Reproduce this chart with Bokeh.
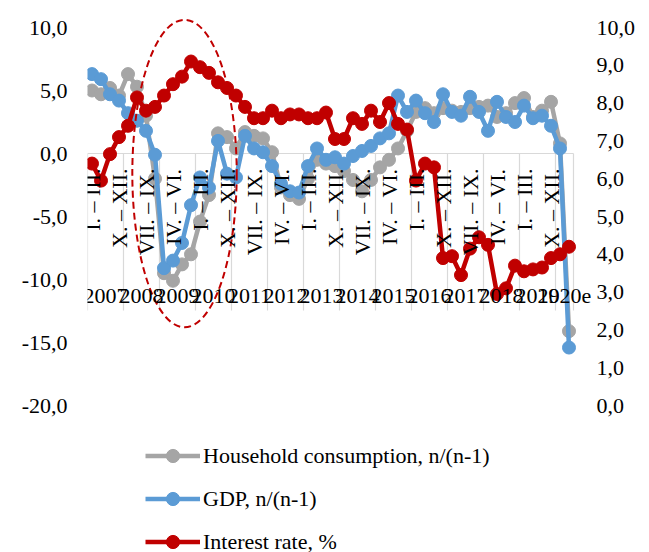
import numpy as np
from bokeh.plotting import figure
from bokeh.models import (Range1d, FixedTicker, Legend, LegendItem,
                          LabelSet, ColumnDataSource)
from bokeh.core.properties import value
from bokeh.embed import file_html
from bokeh.resources import INLINE

# ---------------- data ----------------
years = ["2007", "2008", "2009", "2010", "2011", "2012", "2013", "2014",
         "2015", "2016", "2017", "2018", "2019", "2020e"]
quarters_in_year = [4, 4, 4, 4, 4, 4, 4, 4, 4, 4, 4, 4, 4, 2]
quarter_names = ["I. – III.", "IV. – VI.", "VII. – IX.", "X. – XII."]

household = [5.0, 4.7, 5.2, 4.6, 6.3, 5.3, 3.0, -2.0,
             -9.5, -10.1, -8.8, -8.0, -5.4, -3.3, 1.6, 1.3,
             0.4, 1.7, 1.4, 1.2, 0.1, -2.7, -3.3, -3.6,
             -2.0, -0.5, -0.8, -1.0, -1.4, -2.1, -3.0, -2.1,
             -1.1, -0.5, 0.4, 1.8, 3.3, 3.6, 3.2, 3.6,
             3.4, 3.3, 3.6, 3.7, 3.8, 2.9, 3.2, 4.0,
             4.4, 2.9, 3.4, 4.1, 0.8, -14.1]
gdp = [6.3, 5.9, 4.7, 4.2, 3.2, 2.6, 1.8, -0.1,
       -9.1, -8.5, -7.1, -4.1, -1.9, -2.7, 1.0, -1.6,
       -1.9, 1.4, 0.4, 0.1, -1.0, -2.4, -3.0, -3.1,
       -1.0, 0.4, -0.5, -0.3, -0.8, -0.2, 0.2, 0.6,
       1.2, 1.6, 4.6, 3.3, 4.2, 3.2, 2.5, 4.7,
       3.3, 3.0, 4.5, 3.3, 1.8, 4.1, 2.9, 2.5,
       3.8, 2.8, 3.0, 2.2, 0.4, -15.4]
interest = [6.4, 5.95, 6.65, 7.1, 7.4, 8.15, 7.8, 7.9,
            8.2, 8.5, 8.7, 9.1, 8.95, 8.8, 8.55, 8.4,
            8.2, 7.9, 7.6, 7.6, 7.8, 7.6, 7.7, 7.7,
            7.6, 7.6, 7.75, 7.05, 7.05, 7.6, 7.45, 7.8,
            7.5, 8.0, 7.45, 7.3, 5.95, 6.4, 6.3, 3.9,
            3.95, 3.45, 4.15, 4.45, 4.25, 2.95, 3.1, 3.7,
            3.55, 3.6, 3.65, 3.9, 4.0, 4.2]

left_ticks = [-20, -15, -10, -5, 0, 5, 10]
left_tick_labels = ["-20,0", "-15,0", "-10,0", "-5,0", "0,0", "5,0", "10,0"]
right_ticks = [0, 1, 2, 3, 4, 5, 6, 7, 8, 9, 10]
right_tick_labels = ["0,0", "1,0", "2,0", "3,0", "4,0", "5,0", "6,0",
                     "7,0", "8,0", "9,0", "10,0"]

series_names = ["Household consumption, n/(n-1)", "GDP, n/(n-1)", "Interest rate, %"]
series_colors = ["#A5A5A5", "#5B9BD5", "#C00000"]

# highlighted crisis period (ellipse): centre (category units, left-axis units) and size
highlight_center = (10.78, -1.59)
highlight_size = (11.6, 24.4)

FONT = "Liberation Serif"
FSIZE = "22px"

# ---------------- derived ----------------
n = sum(quarters_in_year)
x = np.arange(n) + 0.5
period_q = []
for q_count in quarters_in_year:
    period_q += quarter_names[:q_count]

bounds = np.concatenate([[0], np.cumsum(quarters_in_year)])
year_centers = (bounds[:-1] + bounds[1:]) / 2.0

# geometry: 9 px per quarter, left 12.6 px/unit, right 37.8 px/unit;
# value 10 sits 27 px below the top, frame spans the full 552 px height
px_per_q = 9.0
x_end = n + 76 / px_per_q
left_hi = 10 + 27 / 12.6
left_lo = 10 - 525 / 12.6
right_hi = 10 + 27 / 37.8
right_lo = 10 - 525 / 37.8

p = figure(width=649, height=552, x_range=Range1d(0, x_end), y_range=Range1d(left_lo, left_hi),
           output_backend="svg", toolbar_location=None,
           min_border_left=87, min_border_right=0, min_border_top=0, min_border_bottom=0,
           x_axis_location=None, y_axis_location="left")
p.extra_y_ranges = {"right": Range1d(right_lo, right_hi)}
p.xgrid.visible = False
p.ygrid.visible = False
p.outline_line_color = None
p.background_fill_color = "white"
p.border_fill_color = "white"

la = p.yaxis[0]
la.ticker = FixedTicker(ticks=left_ticks)
la.major_label_overrides = {t: s for t, s in zip(left_ticks, left_tick_labels)}
la.axis_line_color = None
la.major_tick_line_color = None
la.minor_tick_line_color = None
la.major_tick_out = 0
la.major_tick_in = 0
la.major_label_standoff = 20
la.major_label_text_font = FONT
la.major_label_text_font_size = FSIZE
la.major_label_text_color = "black"

# right-axis tick labels (secondary scale)
rsrc = ColumnDataSource(dict(x=np.full(len(right_ticks), n + 23 / px_per_q),
                             y=right_ticks, text=right_tick_labels))
p.add_layout(LabelSet(x="x", y="y", text="text", source=rsrc, y_range_name="right",
                      text_align="left", text_baseline="middle",
                      text_font=value(FONT), text_font_size=value(FSIZE),
                      text_color="black"))

# category axis line at 0 and year dividers
p.segment(x0=[0], y0=[0], x1=[n], y1=[0], line_color="#D9D9D9", line_width=1.2)
p.segment(x0=bounds, y0=np.zeros(len(bounds)), x1=bounds,
          y1=np.full(len(bounds), -12.46), line_color="#D9D9D9", line_width=1.2)

# series
renderers = []
for vals, col, rng in [(household, series_colors[0], "default"),
                       (gdp, series_colors[1], "default"),
                       (interest, series_colors[2], "right")]:
    src = ColumnDataSource(dict(x=x, y=vals))
    ln = p.line("x", "y", source=src, line_color=col, line_width=4.5,
                line_join="round", y_range_name=rng)
    sc = p.scatter("x", "y", source=src, size=13, fill_color=col, line_color=col,
                   y_range_name=rng)
    renderers.append((ln, sc))

# highlight ellipse
p.ellipse(x=[highlight_center[0]], y=[highlight_center[1]],
          width=[highlight_size[0]], height=[highlight_size[1]],
          fill_color=None, line_color="#C00000", line_width=2, line_dash="7 4")

# quarter labels (every 3rd category)
qi = np.arange(0, n, 3)
qsrc = ColumnDataSource(dict(x=x[qi], y=np.zeros(len(qi)), text=[period_q[i] for i in qi]))
p.add_layout(LabelSet(x="x", y="y", text="text", source=qsrc, angle=np.pi / 2,
                      text_align="right", text_baseline="middle", y_offset=-15,
                      text_font=value(FONT), text_font_size=value(FSIZE),
                      text_color="black"))

ysrc = ColumnDataSource(dict(x=year_centers, y=np.full(len(years), -11.9), text=years))
p.add_layout(LabelSet(x="x", y="y", text="text", source=ysrc,
                      text_align="center", text_baseline="alphabetic",
                      text_font=value(FONT), text_font_size=value(FSIZE),
                      text_color="black"))

legend = Legend(items=[LegendItem(label=nm, renderers=list(r))
                       for nm, r in zip(series_names, renderers)],
                location=(58, -6), orientation="vertical",
                glyph_width=55, glyph_height=33, spacing=10, padding=0, margin=0,
                border_line_color=None, background_fill_alpha=0,
                label_text_font=FONT, label_text_font_size=FSIZE,
                label_standoff=3, label_height=33, label_text_color="black")
p.add_layout(legend)

open("out.html", "w").write(file_html(p, INLINE))
